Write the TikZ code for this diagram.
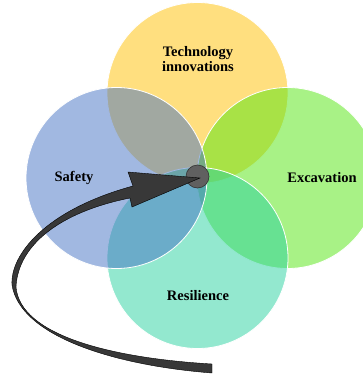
\documentclass[tikz,border=0pt]{standalone}
\usepackage{fontspec}
\setmainfont{Liberation Serif}
\usepackage{tikz}

\definecolor{techcol}{HTML}{FFC000}
\definecolor{safecol}{HTML}{4472C4}
\definecolor{excacol}{HTML}{52E50E}
\definecolor{resicol}{HTML}{27D19F}
\definecolor{arrowcol}{HTML}{383838}

\begin{document}
\begin{tikzpicture}[x=1pt, y=-1pt]
	\tikzstyle{venn} = [circle, minimum size=181pt, inner sep=0pt, draw=white, line width=0.8pt, fill opacity=0.5]
	\tikzstyle{label} = [font=\fontsize{14.5}{15}\selectfont\bfseries, align=center, inner sep=0pt]
	\useasboundingbox (0,0) rectangle (363,378);
	\clip (0,0) rectangle (363,378);
	\node[venn, fill=techcol] (tech) at (197.5, 93) {};
	\node[venn, fill=excacol] (exca) at (287.5, 178) {};
	\node[venn, fill=resicol] (resi) at (197.5, 258) {};
	\node[venn, fill=safecol] (safe) at (116.5, 178) {};
	\node[label] (techlbl) at (198, 59) {Technology\\innovations};
	\node[label] (safelbl) at (74, 178) {Safety};
	\node[label] (excalbl) at (322, 178) {Excavation};
	\node[label] (resilbl) at (198, 296) {Resilience};
	\node[circle, minimum size=23pt, inner sep=0pt, fill=gray!75!black, draw=black!80, line width=0.6pt] (hub) at (197.5, 176.5) {};
	\coordinate (tip) at (200, 178);
	\filldraw[fill=arrowcol, draw=black, line width=0.4pt]
		(212, 373) .. controls (110, 365) and (20, 335) .. (12, 285)
		.. controls (10, 255) and (45, 210) .. (133, 186)
		-- (128, 172) -- (tip) -- (132, 207) -- (130, 198)
		.. controls (60, 212) and (18, 245) .. (16, 287)
		.. controls (20, 335) and (110, 358) .. (212, 364) -- cycle;
\end{tikzpicture}
\end{document}
